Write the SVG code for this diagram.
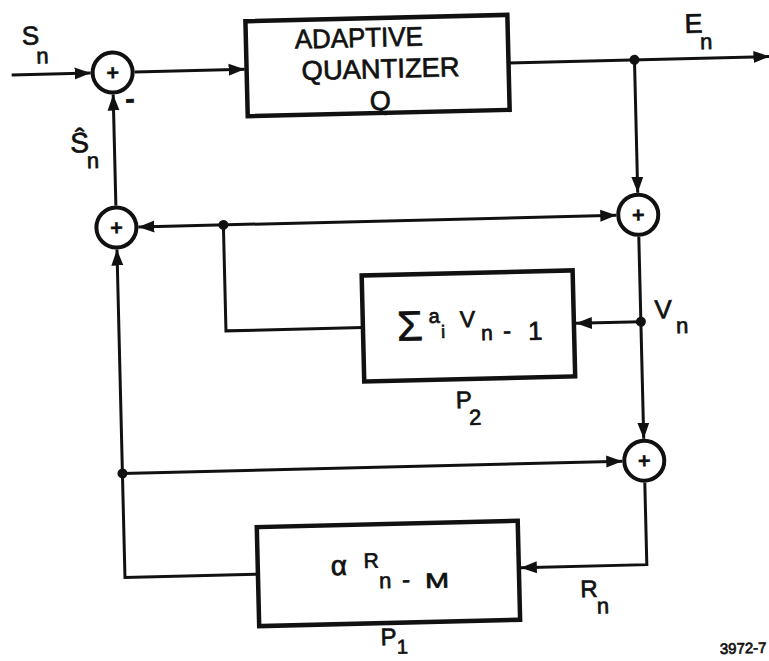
<svg xmlns="http://www.w3.org/2000/svg" width="769" height="661" viewBox="0 0 769 661">
<defs>
<marker id="ah" markerUnits="userSpaceOnUse" markerWidth="17" markerHeight="13" refX="16" refY="6.5" orient="auto-start-reverse"><path d="M0,0.5 L16,6.5 L0,12.5 Z" fill="#111"/></marker>
</defs>
<style>
.ln{fill:none;stroke:#111;stroke-width:3}
.bx{fill:none;stroke:#111;stroke-width:4.5}
.sm{fill:#fff;stroke:#111;stroke-width:4}
.dot{fill:#111}
text{font-family:"Liberation Sans",Arial,sans-serif;fill:#111;stroke:#111;stroke-width:0.7}
.pl{font-size:22px;font-weight:bold;text-anchor:middle;stroke-width:0.3}
.big{font-size:27px}
.sub{font-size:22px}
</style>
<rect width="769" height="661" fill="#fff"/>
<g transform="rotate(-1.4 384 330)">
<g id="connectors">
<path class="ln" d="M18,66 L97,66" marker-end="url(#ah)"/>
<path class="ln" d="M141,66 L251,66" marker-end="url(#ah)"/>
<path class="ln" d="M515,66 L776,66" marker-end="url(#ah)"/>
<path class="ln" d="M641,66 L641,199" marker-end="url(#ah)"/>
<path class="ln" d="M141,221 L619,221" marker-start="url(#ah)" marker-end="url(#ah)"/>
<path class="ln" d="M119,199 L119,88" marker-end="url(#ah)"/>
<path class="ln" d="M226,221 L226,327 L363,327"/>
<path class="ln" d="M641,328 L576,328" marker-end="url(#ah)"/>
<path class="ln" d="M641,243 L641,445" marker-end="url(#ah)"/>
<path class="ln" d="M119,467 L619,467" marker-end="url(#ah)"/>
<path class="ln" d="M641,489 L641,571 L515,571" marker-end="url(#ah)"/>
<path class="ln" d="M252,571 L119,571 L119,243" marker-end="url(#ah)"/>
<circle class="dot" cx="641" cy="66" r="5"/>
<circle class="dot" cx="226" cy="221" r="5"/>
<circle class="dot" cx="641" cy="328" r="5"/>
<circle class="dot" cx="119" cy="467" r="5"/>
</g>
<g id="sum1"><circle class="sm" cx="119" cy="66" r="20"/><text class="pl" x="119" y="73.5">+</text><text x="131" y="102" font-size="28" font-weight="bold">-</text></g>
<g id="sum2"><circle class="sm" cx="119" cy="221" r="20"/><text class="pl" x="119" y="228.5">+</text></g>
<g id="sum3"><circle class="sm" cx="641" cy="221" r="20"/><text class="pl" x="641" y="228.5">+</text></g>
<g id="sum4"><circle class="sm" cx="641" cy="467" r="20"/><text class="pl" x="641" y="474.5">+</text></g>
<g id="quantizer">
<rect class="bx" x="253" y="18" width="262" height="95"/>
<text class="big" x="366" y="46.5" text-anchor="middle" textLength="128" lengthAdjust="spacingAndGlyphs">ADAPTIVE</text>
<text class="big" x="387" y="78" text-anchor="middle" textLength="158" lengthAdjust="spacingAndGlyphs">QUANTIZER</text>
<text class="big" x="386" y="110" text-anchor="middle">Q</text>
</g>
<g id="p2">
<rect class="bx" x="363" y="275" width="211" height="106"/>
<text x="397" y="341" font-size="42">Σ</text>
<text x="429" y="324" font-size="20">a</text>
<text x="441" y="339.5" font-size="18">i</text>
<text x="460" y="329" font-size="23">V</text>
<text x="481" y="342.5" font-size="21">n</text>
<text x="503" y="342" font-size="24">-</text>
<text x="528" y="343.5" font-size="26">1</text>
</g>
<g id="p1">
<rect class="bx" x="252" y="524" width="261" height="99"/>
<text x="325" y="574" font-size="28">α</text>
<text x="358" y="567.5" font-size="21">R</text>
<text x="373" y="588" font-size="22">n</text>
<text x="396" y="588" font-size="24">-</text>
<text x="419" y="589" font-size="21" textLength="24" lengthAdjust="spacingAndGlyphs">M</text>
</g>
<g id="labels">
<text x="29" y="36" font-size="26">S</text><text x="43" y="55" class="sub">n</text>
<text x="692" y="40.4" class="big">E</text><text x="707" y="57" class="sub">n</text>
<text x="75" y="145" font-size="28">Ŝ</text><text x="91" y="161" class="sub">n</text>
<text x="655" y="325" font-size="26">V</text><text x="676" y="340.5" class="sub">n</text>
<text x="574" y="602" font-size="24">R</text><text x="590" y="618.5" class="sub">n</text>
<text x="454" y="410" font-size="24">P</text><text x="467" y="427" class="sub">2</text>
<text x="373" y="645" font-size="24">P</text><text x="389" y="654" font-size="20">1</text>
<text x="712" y="662" font-size="15" stroke-width="0.3">3972-7</text>
</g>
</g>
</svg>
